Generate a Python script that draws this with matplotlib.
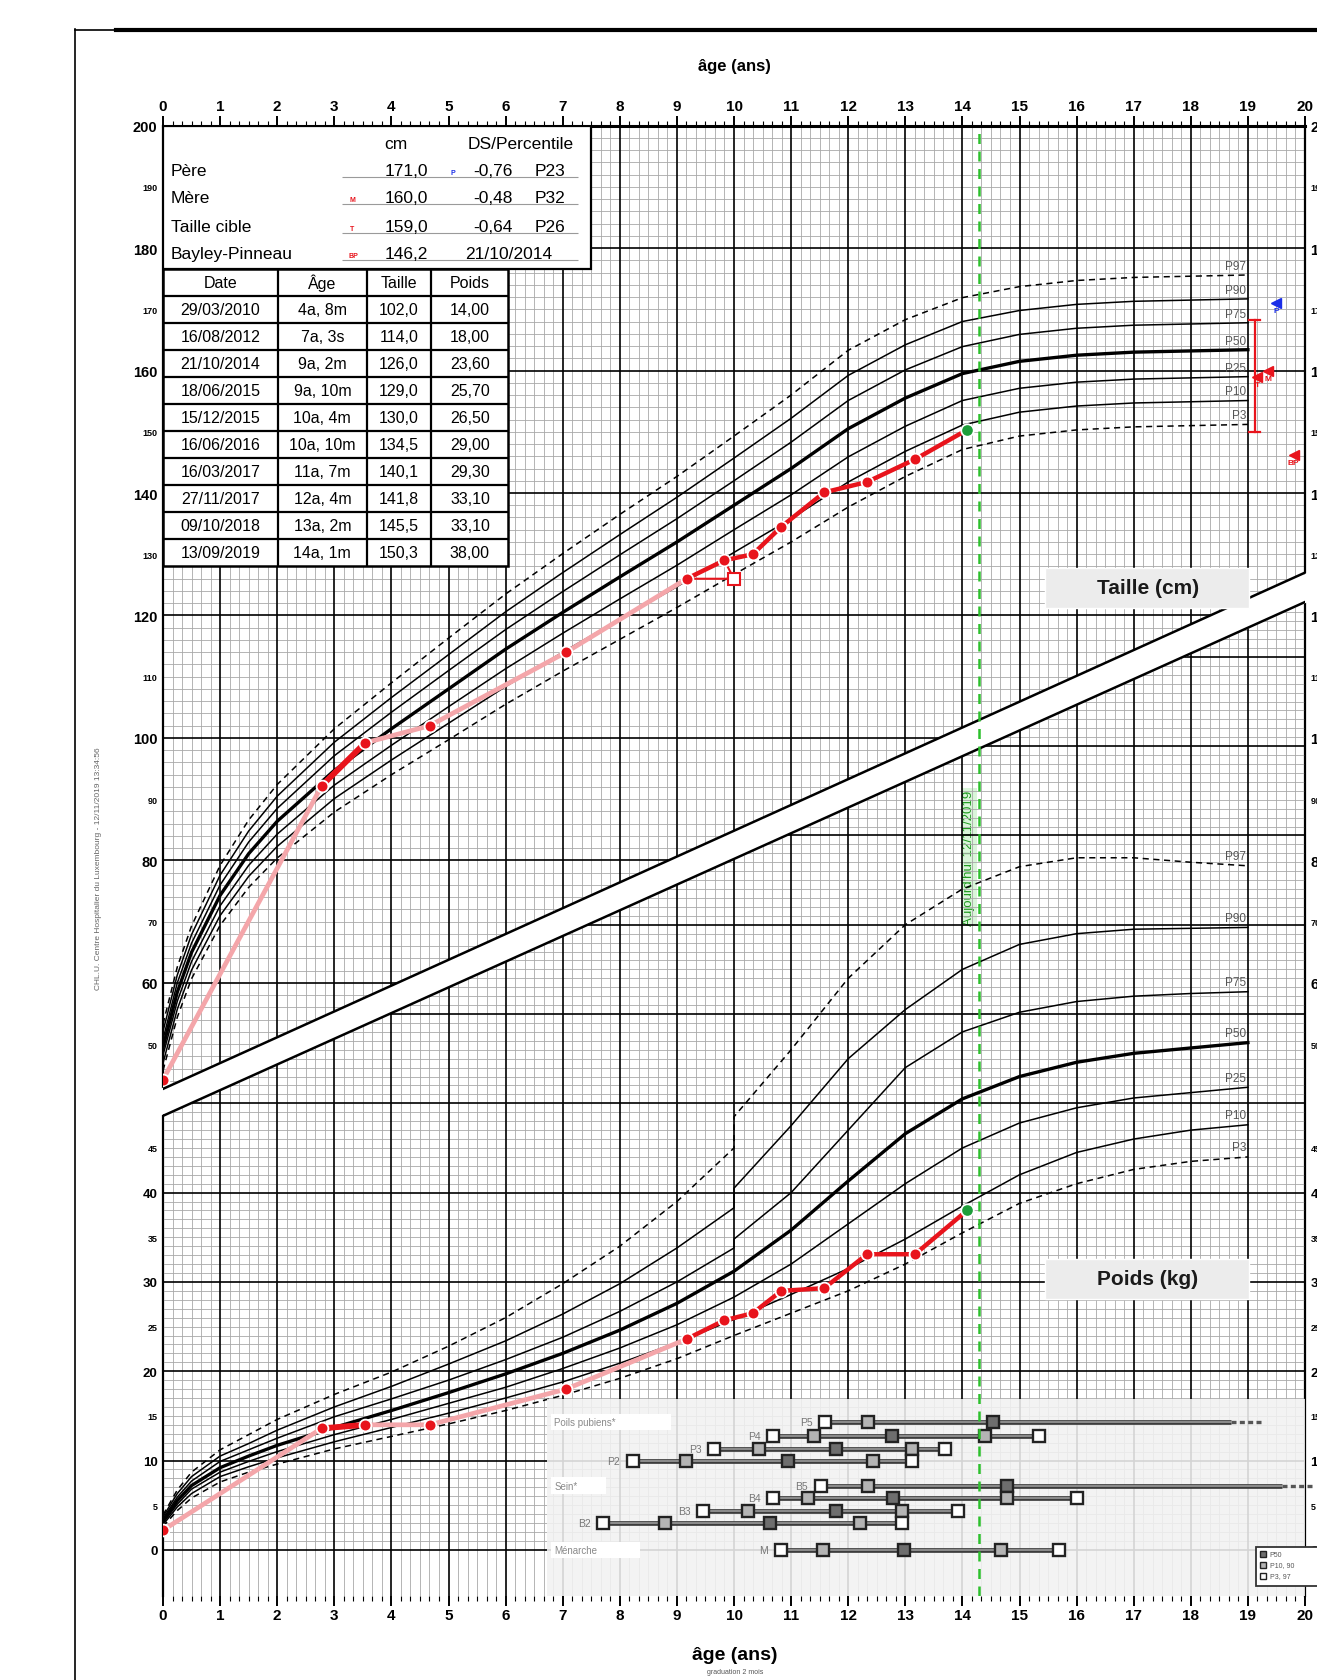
import numpy as np
import matplotlib
matplotlib.use("Agg")
import matplotlib.pyplot as plt
from matplotlib.patches import Polygon, Rectangle
from matplotlib.lines import Line2D

plt.rcParams['font.family'] = ['Liberation Sans', 'DejaVu Sans']

# ---- courbes de reference (filles) ----
ages_ref_h = [0, 0.25, 0.5, 1, 1.5, 2, 3, 4, 5, 6, 7, 8, 9, 10, 11, 12, 13, 14, 15, 16, 17, 18, 19]
taille_p97 = [53.3, 62.6, 69.3, 79.2, 86.6, 92.4, 101.5, 109.0, 116.3, 123.5, 130.1, 136.5, 142.7, 149.3, 156.0, 163.3, 168.3, 171.9, 173.7, 174.7, 175.2, 175.4, 175.6]
taille_p90 = [52.1, 61.3, 67.9, 77.6, 84.8, 90.5, 99.3, 106.6, 113.6, 120.6, 127.0, 133.2, 139.3, 145.7, 152.2, 159.2, 164.2, 168.0, 169.8, 170.8, 171.3, 171.5, 171.7]
taille_p75 = [50.8, 60.0, 66.5, 76.0, 83.0, 88.5, 97.1, 104.2, 111.0, 117.7, 123.9, 129.9, 135.8, 142.0, 148.3, 155.1, 160.1, 163.9, 165.9, 166.9, 167.4, 167.6, 167.8]
taille_p50 = [49.5, 58.5, 65.0, 74.3, 81.1, 86.4, 94.7, 101.5, 108.0, 114.5, 120.5, 126.3, 132.0, 138.0, 144.0, 150.5, 155.5, 159.5, 161.5, 162.5, 163.0, 163.2, 163.4]
taille_p25 = [48.2, 57.0, 63.5, 72.6, 79.2, 84.3, 92.3, 98.8, 105.1, 111.3, 117.1, 122.7, 128.2, 134.0, 139.7, 145.9, 150.9, 155.1, 157.1, 158.1, 158.6, 158.8, 159.0]
taille_p10 = [46.9, 55.7, 62.1, 71.0, 77.4, 82.3, 90.1, 96.4, 102.4, 108.4, 114.0, 119.4, 124.7, 130.3, 135.8, 141.8, 146.8, 151.1, 153.2, 154.2, 154.7, 154.9, 155.1]
taille_p3 = [45.7, 54.4, 60.7, 69.4, 75.6, 80.4, 87.9, 94.0, 99.7, 105.5, 110.9, 116.1, 121.3, 126.7, 132.0, 137.7, 142.7, 147.1, 149.3, 150.3, 150.8, 151.0, 151.2]

ages_ref_w = [0, 0.25, 0.5, 1, 1.5, 2, 3, 4, 5, 6, 7, 8, 9, 10, 10, 11, 12, 13, 14, 15, 16, 17, 18, 19]
poids_p97 = [3.9, 6.7, 8.7, 11.2, 12.9, 14.6, 17.4, 19.9, 22.8, 26.0, 29.8, 34.0, 39.0, 45.0, 48.5, 56.0, 64.0, 70.0, 74.0, 76.5, 77.5, 77.5, 77.0, 76.6]
poids_p90 = [3.7, 6.3, 8.2, 10.5, 11.9, 13.4, 16.0, 18.3, 20.8, 23.4, 26.4, 29.8, 33.8, 38.3, 40.5, 47.5, 55.0, 60.5, 65.0, 67.8, 69.0, 69.5, 69.6, 69.7]
poids_p75 = [3.5, 5.9, 7.7, 9.9, 11.2, 12.5, 14.9, 16.9, 19.0, 21.3, 23.8, 26.7, 30.0, 33.8, 34.8, 40.0, 47.0, 54.0, 58.0, 60.2, 61.4, 62.0, 62.3, 62.5]
poids_p50 = [3.2, 5.5, 7.2, 9.2, 10.5, 11.7, 13.7, 15.6, 17.6, 19.7, 22.0, 24.6, 27.6, 31.2, 31.2, 35.8, 41.3, 46.6, 50.5, 53.0, 54.6, 55.6, 56.2, 56.8]
poids_p25 = [3.0, 5.1, 6.8, 8.7, 9.9, 11.0, 12.9, 14.6, 16.4, 18.2, 20.3, 22.6, 25.2, 28.3, 28.3, 32.0, 36.5, 41.0, 45.0, 47.8, 49.5, 50.6, 51.2, 51.8]
poids_p10 = [2.8, 4.8, 6.3, 8.2, 9.3, 10.3, 12.1, 13.7, 15.3, 17.0, 18.8, 20.9, 23.2, 25.8, 25.8, 28.6, 31.5, 34.8, 38.5, 42.0, 44.5, 46.0, 47.0, 47.6]
poids_p3 = [2.6, 4.4, 5.8, 7.6, 8.7, 9.6, 11.3, 12.7, 14.1, 15.6, 17.3, 19.2, 21.4, 24.0, 24.0, 26.5, 29.0, 32.0, 35.5, 38.8, 41.0, 42.6, 43.5, 44.0]

perc_noms = ["P97", "P90", "P75", "P50", "P25", "P10", "P3"]

# ---- mesures de la patiente ----
mes_age = [0, 2.78, 3.54, 4.67, 7.06, 9.17, 9.83, 10.33, 10.83, 11.58, 12.33, 13.17, 14.08]
mes_taille = [44.2, 92.2, 99.2, 102.0, 114.0, 126.0, 129.0, 130.0, 134.5, 140.1, 141.8, 145.5, 150.3]
mes_poids = [2.2, 13.6, 14.0, 14.0, 18.0, 23.6, 25.7, 26.5, 29.0, 29.3, 33.1, 33.1, 38.0]
age_osseux = 10.0
age_aujourdhui = 14.29

# ---- tableau ----
tab_dates = ["29/03/2010", "16/08/2012", "21/10/2014", "18/06/2015", "15/12/2015",
             "16/06/2016", "16/03/2017", "27/11/2017", "09/10/2018", "13/09/2019"]
tab_ages = ["4a, 8m", "7a, 3s", "9a, 2m", "9a, 10m", "10a, 4m",
            "10a, 10m", "11a, 7m", "12a, 4m", "13a, 2m", "14a, 1m"]
tab_tailles = ["102,0", "114,0", "126,0", "129,0", "130,0", "134,5", "140,1", "141,8", "145,5", "150,3"]
tab_poids = ["14,00", "18,00", "23,60", "25,70", "26,50", "29,00", "29,30", "33,10", "33,10", "38,00"]

parents_noms = ["Père", "Mère", "Taille cible", "Bayley-Pinneau"]
parents_cm = ["171,0", "160,0", "159,0", "146,2"]
parents_ds = ["-0,76", "-0,48", "-0,64", ""]
parents_pc = ["P23", "P32", "P26", ""]
taille_pere, taille_mere, taille_cible, taille_bp = 171.0, 160.0, 159.0, 146.2
cible_intervalle = [150.0, 168.2]

# ---- puberte ----
pub_noms = ["P5", "P4", "P3", "P2", "B5", "B4", "B3", "B2", "M"]
pub_ages = [[11.60, 12.35, 14.54],
            [10.68, 11.40, 12.76, 14.39, 15.34],
            [9.65, 10.43, 11.79, 13.11, 13.70],
            [8.23, 9.16, 10.95, 12.43, 13.11],
            [11.52, 12.34, 14.78],
            [10.68, 11.29, 12.79, 14.78, 16.01],
            [9.46, 10.25, 11.78, 12.94, 13.92],
            [7.71, 8.79, 10.63, 12.20, 12.94],
            [10.82, 11.56, 12.98, 14.67, 15.70]]
pub_y = [14.3, 12.8, 11.3, 10.0, 7.2, 5.8, 4.3, 3.0, 0.0]

HLIM = (-40.1, 200.0)
WLIM = (-5.17, 159.5)
BAND_UP = (42.7, 127.0)   # bord haut de la bande (cm) a 0 et 20 ans
BAND_LO = (38.3, 122.2)   # bord bas de la bande (cm)


def h2w(h):
    return WLIM[0] + (np.asarray(h) - HLIM[0]) * (WLIM[1] - WLIM[0]) / (HLIM[1] - HLIM[0])


def up_h(x):
    return BAND_UP[0] + (BAND_UP[1] - BAND_UP[0]) * np.asarray(x) / 20


lo_w0, lo_w20 = h2w(BAND_LO[0]), h2w(BAND_LO[1])


def lo_w(x):
    return lo_w0 + (lo_w20 - lo_w0) * np.asarray(x) / 20


fig = plt.figure(figsize=(13.17, 16.81), dpi=100)
ax = fig.add_axes([0.12377, 0.04998, 0.86712, 0.87474])
ax.set_xlim(0, 20)
ax.set_ylim(*HLIM)
axw = ax.twinx()
axw.set_ylim(*WLIM)

# ---- grille ----
xs = np.arange(121) / 6
maj = (np.arange(121) % 6) == 0
ax.vlines(xs[~maj], up_h(xs[~maj]), 200, colors='#a8a8a8', lw=0.6, zorder=1)
ax.vlines(xs[maj], up_h(xs[maj]), 200, colors='black', lw=1.2, zorder=1.2)
axw.vlines(xs[~maj], WLIM[0], lo_w(xs[~maj]), colors='#a8a8a8', lw=0.6, zorder=1)
axw.vlines(xs[maj], WLIM[0], lo_w(xs[maj]), colors='black', lw=1.2, zorder=1.2)

hs = np.arange(44, 200, 2)
hx = np.minimum(20, (hs - BAND_UP[0]) * 20 / (BAND_UP[1] - BAND_UP[0]))
hm = hs % 20 == 0
ax.hlines(hs[~hm], 0, hx[~hm], colors='#a8a8a8', lw=0.6, zorder=1)
ax.hlines(hs[hm], 0, hx[hm], colors='black', lw=1.2, zorder=1.2)

ws = np.arange(0, 160)
wx = np.maximum(0, (ws - lo_w0) * 20 / (lo_w20 - lo_w0))
keep = wx < 20
ws, wx = ws[keep], wx[keep]
wm = ws % 10 == 0
axw.hlines(ws[~wm], wx[~wm], 20, colors='#a8a8a8', lw=0.6, zorder=1)
axw.hlines(ws[wm], wx[wm], 20, colors='black', lw=1.2, zorder=1.2)

# ---- courbes ----
taille_perc = [taille_p97, taille_p90, taille_p75, taille_p50, taille_p25, taille_p10, taille_p3]
poids_perc = [poids_p97, poids_p90, poids_p75, poids_p50, poids_p25, poids_p10, poids_p3]
for nom, th, pw in zip(perc_noms, taille_perc, poids_perc):
    lw = 2.4 if nom == "P50" else 1.1
    ls = (0, (4, 3)) if nom in ("P97", "P3") else '-'
    ax.plot(ages_ref_h, th, color='black', lw=lw, ls=ls, zorder=2)
    axw.plot(ages_ref_w, pw, color='black', lw=lw, ls=ls, zorder=2)
    ax.text(18.97, th[-1] + 0.5, nom, ha='right', va='bottom', fontsize=8.5, color='#555555', zorder=2.5)
    axw.text(18.97, pw[-1] + 0.4, nom, ha='right', va='bottom', fontsize=8.5, color='#555555', zorder=2.5)

# ---- panneau puberte ----
axw.add_patch(Rectangle((6.72, WLIM[0]), 20 - 6.72, 16.9 - WLIM[0], facecolor='#f2f2f2',
                        alpha=0.88, edgecolor='none', zorder=2.3))
fills = ['white', '#b4b4b4', '#6e6e6e', '#b4b4b4', 'white']
for nom, ages, y in zip(pub_noms, pub_ages, pub_y):
    x_end = ages[-1]
    if nom == "P5":
        x_end = 18.7
    if nom == "B5":
        x_end = 19.6
    axw.plot([ages[0], x_end], [y, y], color='#3c3c3c', lw=3.4, zorder=3, solid_capstyle='butt')
    axw.plot([ages[0], x_end], [y, y], color='#9a9a9a', lw=1.2, zorder=3.1)
    if x_end > ages[-1]:
        axw.plot([x_end, x_end + 0.55], [y, y], color='#555555', lw=2.4, ls=(0, (1.5, 1)),
                 zorder=3, clip_on=False)
    for a, fc in zip(ages, fills):
        axw.plot(a, y, 's', ms=9, mfc=fc, mec='#222222', mew=1.7, zorder=4)
    axw.text(ages[0] - 0.22, y, nom, ha='right', va='center', fontsize=7.5, color='#777777', zorder=4)

for txt, y, w in [("Poils pubiens*", 14.3, 2.1), ("Sein*", 7.2, 0.95), ("Ménarche", 0.0, 1.55)]:
    axw.add_patch(Rectangle((6.80, y - 0.9), w, 1.8, facecolor='white', edgecolor='none', zorder=3.5))
    axw.text(6.85, y, txt, ha='left', va='center', fontsize=7, color='#8a8a8a', zorder=4)

axw.add_patch(Rectangle((19.14, -4.1), 1.3, 4.45, facecolor='white', edgecolor='#333333',
                        lw=1.3, zorder=5, clip_on=False))
for y, fc, lab in [(-0.5, '#6e6e6e', 'P50'), (-1.7, '#b4b4b4', 'P10, 90'), (-2.9, 'white', 'P3, 97')]:
    axw.plot(19.27, y, 's', ms=5, mfc=fc, mec='#222222', mew=1, zorder=6, clip_on=False)
    axw.text(19.38, y, lab, fontsize=5, va='center', color='#555555', zorder=6, clip_on=False)

# ---- bande blanche ----
band = Polygon([(-0.05, BAND_LO[0]), (20.05, BAND_LO[1]), (20.05, BAND_UP[1]), (-0.05, BAND_UP[0])],
               closed=True, facecolor='white', edgecolor='none', transform=ax.transData,
               zorder=4.5, clip_on=False)
axw.add_patch(band)
axw.plot([0, 20], list(BAND_UP), color='black', lw=1.8, transform=ax.transData, zorder=4.6)
axw.plot([0, 20], list(BAND_LO), color='black', lw=1.8, transform=ax.transData, zorder=4.6)

# ---- aujourd'hui ----
axw.axvline(age_aujourdhui, color='#2cc02c', lw=1.8, ls=(0, (4, 3)), zorder=4.7)
ax.text(age_aujourdhui - 0.17, 80.5, "Aujourd'hui 12/11/2019", rotation=90, ha='center', va='center',
        fontsize=9.5, color='#1f9a1f', zorder=3,
        bbox=dict(facecolor='#d9f5d9', edgecolor='none', pad=1))

# ---- mesures ----
rose, rouge, vert = '#f4a6aa', '#e8141c', '#1e9e3a'
ax.plot(mes_age[:6], mes_taille[:6], color=rose, lw=3.4, zorder=5, solid_capstyle='round')
ax.plot(mes_age[5:], mes_taille[5:], color=rouge, lw=3.2, zorder=5)
ax.plot(mes_age[1:3], mes_taille[1:3], color=rouge, lw=4.2, zorder=5)
ax.plot([mes_age[5], age_osseux, mes_age[6]], [mes_taille[5], mes_taille[5], mes_taille[6]],
        color=rouge, lw=1.5, zorder=5)
ax.plot(age_osseux, mes_taille[5], 's', ms=8, mfc='white', mec=rouge, mew=1.5, zorder=5.5)
ax.plot(mes_age[:-1], mes_taille[:-1], 'o', ms=8.5, mfc=rouge, mec='white', mew=1.3, zorder=6)
ax.plot(mes_age[-1], mes_taille[-1], 'o', ms=9, mfc=vert, mec='white', mew=1.3, zorder=6)

axw.plot(mes_age[:6], mes_poids[:6], color=rose, lw=3.4, zorder=5, solid_capstyle='round')
axw.plot(mes_age[5:], mes_poids[5:], color=rouge, lw=3.2, zorder=5)
axw.plot(mes_age[1:3], mes_poids[1:3], color=rouge, lw=4.2, zorder=5)
axw.plot(mes_age[:-1], mes_poids[:-1], 'o', ms=8.5, mfc=rouge, mec='white', mew=1.3, zorder=6)
axw.plot(mes_age[-1], mes_poids[-1], 'o', ms=9, mfc=vert, mec='white', mew=1.3, zorder=6)

# ---- taille cible / parents a droite ----
ax.plot([19.12, 19.12], cible_intervalle, color=rouge, lw=1.6, zorder=3)
ax.plot([19.02, 19.22], [cible_intervalle[0]] * 2, color=rouge, lw=1.6, zorder=3)
ax.plot([19.02, 19.22], [cible_intervalle[1]] * 2, color=rouge, lw=1.6, zorder=3)
for x, y, lab, c in [(19.5, taille_pere, 'P', '#1a2ee8'), (19.35, taille_mere, 'M', rouge),
                     (19.16, taille_cible, 'T', rouge), (19.8, taille_bp, 'BP', rouge)]:
    ax.plot(x, y, marker='<', ms=7, color=c, zorder=4, clip_on=False)
    ax.text(x, y - 0.7, lab, fontsize=6, fontweight='bold', color=c, ha='center', va='top',
            zorder=4, clip_on=False)

# ---- boites titres ----
for x0, y0, hgt, txt, tr in [(15.45, 121.2, 6.6, "Taille (cm)", ax.transData),
                             (15.45, 28.1, 4.5, "Poids (kg)", axw.transData)]:
    axw.add_patch(Rectangle((x0, y0), 3.57, hgt, facecolor='#ececec', edgecolor='white',
                            lw=1, transform=tr, zorder=5))
    axw.text(x0 + 1.8, y0 + hgt / 2, txt, ha='center', va='center', fontsize=15,
             fontweight='bold', color='#1a1a1a', transform=tr, zorder=5.1)

# ---- tableaux ----
ax.add_patch(Rectangle((0, 176.6), 7.5, 23.4, facecolor='white', edgecolor='black', lw=1.6, zorder=7))
ax.text(4.08, 197.0, "cm", ha='center', va='center', fontsize=12.5, zorder=8)
ax.text(6.27, 197.0, "DS/Percentile", ha='center', va='center', fontsize=12.5, zorder=8)
rows_y = [192.6, 188.2, 183.5, 179.1]
ax.hlines([y - 1.0 for y in rows_y], 3.13, 7.27, colors='#9a9a9a', lw=0.8, zorder=8)
flags_x = [5.08, 3.31, 3.31, 3.33]
flags_c = ['#1a2ee8', rouge, rouge, rouge]
flags_l = ['P', 'M', 'T', 'BP']
for i, y in enumerate(rows_y):
    ax.text(0.14, y, parents_noms[i], ha='left', va='center', fontsize=12.5, zorder=8)
    ax.text(4.64, y, parents_cm[i], ha='right', va='center', fontsize=12.5, zorder=8)
    ax.text(flags_x[i], y - 0.3, flags_l[i], ha='center', va='center', fontsize=5,
            fontweight='bold', color=flags_c[i], zorder=8)
    if parents_ds[i]:
        ax.text(6.12, y, parents_ds[i], ha='right', va='center', fontsize=12.5, zorder=8)
        ax.text(6.50, y, parents_pc[i], ha='left', va='center', fontsize=12.5, zorder=8)
    else:
        ax.text(6.06, y, "21/10/2014", ha='center', va='center', fontsize=12.5, zorder=8)

t_top, t_bot = 176.6, 128.0
cols = [0, 2.01, 3.57, 4.70, 6.05]
row_h = (t_top - t_bot) / 11
ax.add_patch(Rectangle((0, t_bot), cols[-1], t_top - t_bot, facecolor='white', edgecolor='black',
                       lw=1.8, zorder=7))
ax.hlines([t_top - row_h * k for k in range(1, 11)], 0, cols[-1], colors='black', lw=1.6, zorder=8)
ax.vlines(cols[1:-1], t_bot, t_top, colors='black', lw=1.6, zorder=8)
centres = [(cols[k] + cols[k + 1]) / 2 for k in range(4)]
for c, head in zip(centres, ["Date", "Âge", "Taille", "Poids"]):
    ax.text(c, t_top - row_h / 2, head, ha='center', va='center', fontsize=11.5, zorder=9)
for r in range(10):
    y = t_top - row_h * (r + 1.5)
    for c, val in zip(centres, [tab_dates[r], tab_ages[r], tab_tailles[r], tab_poids[r]]):
        ax.text(c, y, val, ha='center', va='center', fontsize=11.5, zorder=9)

# ---- axes ----
ax.set_xticks(range(21))
ax.set_xticks(np.arange(121) / 6, minor=True)
ax.xaxis.set_ticks_position('both')
ax.tick_params(axis='x', which='major', length=7, width=1.4, pad=2, labeltop=True,
               labelbottom=True, labelsize=11)
ax.tick_params(axis='x', which='minor', length=3.5, width=0.8)
for lab in ax.get_xticklabels():
    lab.set_fontweight('bold')

h_ticks = list(range(200, 49, -10))
ax.set_yticks(h_ticks)
ax.set_yticklabels([str(t) for t in h_ticks])
ax.yaxis.set_ticks_position('both')
ax.tick_params(axis='y', length=0, pad=4, labelleft=True, labelright=True)
for t, tick in zip(h_ticks, ax.yaxis.get_major_ticks()):
    big = t % 20 == 0
    for lab in (tick.label1, tick.label2):
        lab.set_fontsize(10.5 if big else 6.5)
        lab.set_fontweight('bold')

w_ticks = list(range(0, 46, 5))
axw.set_yticks(w_ticks)
axw.set_yticklabels([str(t) for t in w_ticks])
axw.yaxis.set_ticks_position('both')
axw.tick_params(axis='y', length=0, pad=4, labelleft=True, labelright=True)
for t, tick in zip(w_ticks, axw.yaxis.get_major_ticks()):
    big = t % 10 == 0
    for lab in (tick.label1, tick.label2):
        lab.set_fontsize(9.5 if big else 6.5)
        lab.set_fontweight('bold')

ax.spines['bottom'].set_visible(False)
ax.spines['top'].set_linewidth(2.2)
ax.spines['left'].set_linewidth(1.6)
ax.spines['right'].set_linewidth(1.6)
for s in axw.spines.values():
    s.set_visible(False)

# ---- page ----
fig.add_artist(Line2D([0.057, 0.057], [0.0, 0.982], color='black', lw=1.2))
fig.add_artist(Line2D([0.057, 1.0], [0.9815, 0.9815], color='black', lw=1.2))
fig.add_artist(Line2D([0.088, 1.0], [0.9815, 0.9815], color='black', lw=3.0))
fig.text(0.558, 0.9604, "âge (ans)", ha='center', va='center', fontsize=12, fontweight='semibold')
fig.text(0.558, 0.0150, "âge (ans)", ha='center', va='center', fontsize=14, fontweight='bold')
fig.text(0.558, 0.0048, "graduation 2 mois", ha='center', va='center', fontsize=5, color='#555555')
fig.text(0.075, 0.483, "CHL.U. Centre Hospitalier du Luxembourg - 12/11/2019 13:34:56",
         rotation=90, ha='center', va='center', fontsize=6, color='#666666')

fig.savefig("out.png", dpi=100)
